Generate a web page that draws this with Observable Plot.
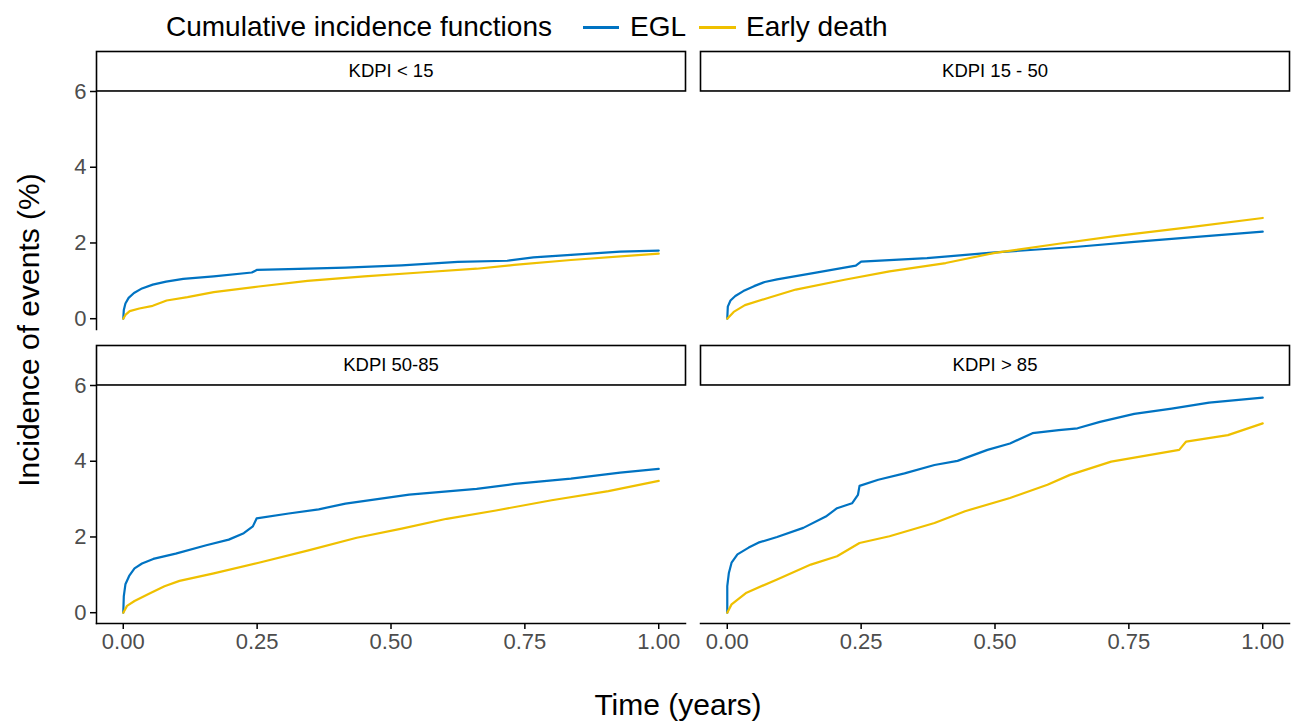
<!DOCTYPE html>
<html>
<head>
<meta charset="utf-8">
<script src="https://cdn.jsdelivr.net/npm/d3@7"></script>
<script src="https://cdn.jsdelivr.net/npm/@observablehq/plot@0.6"></script>
<style>
  body { margin: 0; background: #fff; font-family: "Liberation Sans", Arial, sans-serif; }
  #wrap { position: relative; width: 1298px; height: 721px; }
  #legend { position: absolute; left: 0; top: 0; width: 1298px; height: 48px; }
  .lg { position: absolute; top: 11px; font-size: 28px; color: #000; white-space: nowrap; line-height: 32px; }
  .sw { position: absolute; top: 26px; height: 3px; }
  #chart { position: absolute; left: 0; top: 48px; }
  #ytitle { position: absolute; left: 29px; top: 330px; transform: translate(-50%, -50%) rotate(-90deg); font-size: 30px; white-space: nowrap; }
  #xtitle { position: absolute; left: 678px; top: 705px; transform: translate(-50%, -50%); font-size: 30px; white-space: nowrap; }
</style>
</head>
<body>
<div id="wrap">
  <div id="legend"></div>
  <div id="chart"></div>
  <div id="ytitle">Incidence of events (%)</div>
  <div id="xtitle">Time (years)</div>
</div>
<script>
// ---- Data ----
const panels = ["KDPI < 15", "KDPI 15 - 50", "KDPI 50-85", "KDPI > 85"];
const panelCol = [0, 1, 0, 1];
const panelRow = [0, 0, 1, 1];
const seriesNames = ["EGL", "Early death"];
const seriesColors = ["#0073C2", "#EFC000"];
const legendTitle = "Cumulative incidence functions";
const xTicks = [0, 0.25, 0.5, 0.75, 1];
const yTicks = [0, 2, 4, 6];

// [time (years), incidence (%)]
const egl_lt15 = [[0,0],[0.001,0.23],[0.004,0.40],[0.01,0.55],[0.02,0.68],[0.035,0.80],[0.055,0.90],[0.08,0.98],[0.112,1.05],[0.169,1.12],[0.24,1.22],[0.25,1.29],[0.309,1.31],[0.415,1.35],[0.52,1.41],[0.625,1.50],[0.717,1.53],[0.766,1.62],[0.85,1.70],[0.928,1.77],[1.0,1.80]];
const death_lt15 = [[0,0],[0.004,0.10],[0.012,0.20],[0.03,0.27],[0.055,0.34],[0.081,0.48],[0.12,0.57],[0.169,0.70],[0.253,0.85],[0.344,1.00],[0.45,1.12],[0.555,1.22],[0.66,1.32],[0.73,1.42],[0.836,1.55],[1.0,1.72]];

const egl_15_50 = [[0,0],[0.001,0.32],[0.006,0.48],[0.015,0.60],[0.03,0.73],[0.05,0.86],[0.07,0.97],[0.093,1.04],[0.163,1.21],[0.24,1.40],[0.25,1.51],[0.373,1.60],[0.5,1.75],[0.654,1.90],[0.76,2.03],[0.865,2.15],[1.0,2.30]];
const death_15_50 = [[0,0],[0.012,0.18],[0.033,0.36],[0.079,0.56],[0.128,0.77],[0.219,1.03],[0.303,1.25],[0.408,1.47],[0.5,1.74],[0.619,1.98],[0.724,2.18],[0.865,2.42],[1.0,2.66]];

const egl_50_85 = [[0,0],[0.001,0.44],[0.004,0.75],[0.011,0.97],[0.021,1.17],[0.035,1.30],[0.056,1.42],[0.098,1.56],[0.155,1.78],[0.197,1.93],[0.225,2.10],[0.242,2.28],[0.249,2.49],[0.309,2.62],[0.365,2.73],[0.415,2.88],[0.534,3.12],[0.66,3.27],[0.731,3.40],[0.836,3.54],[0.928,3.70],[1.0,3.80]];
const death_50_85 = [[0,0],[0.007,0.18],[0.021,0.31],[0.049,0.51],[0.077,0.70],[0.105,0.84],[0.169,1.04],[0.253,1.32],[0.344,1.64],[0.436,1.98],[0.52,2.22],[0.604,2.48],[0.696,2.70],[0.80,2.97],[0.906,3.21],[1.0,3.48]];

const egl_gt85 = [[0,0],[0,0.70],[0.003,1.05],[0.008,1.32],[0.019,1.54],[0.04,1.72],[0.058,1.85],[0.093,2.00],[0.142,2.24],[0.184,2.54],[0.205,2.76],[0.233,2.89],[0.244,3.11],[0.247,3.35],[0.282,3.51],[0.331,3.68],[0.387,3.90],[0.43,4.01],[0.486,4.30],[0.528,4.47],[0.57,4.74],[0.619,4.82],[0.654,4.87],[0.696,5.04],[0.76,5.25],[0.83,5.39],[0.9,5.55],[1.0,5.68]];
const death_gt85 = [[0,0],[0.008,0.22],[0.036,0.53],[0.093,0.88],[0.156,1.27],[0.205,1.49],[0.247,1.84],[0.303,2.02],[0.387,2.37],[0.444,2.68],[0.528,3.03],[0.598,3.38],[0.64,3.64],[0.717,3.99],[0.844,4.30],[0.857,4.52],[0.935,4.69],[1.0,5.0]];

const curves = [
  [egl_lt15, death_lt15],
  [egl_15_50, death_15_50],
  [egl_50_85, death_50_85],
  [egl_gt85, death_gt85]
];

// ---- Build tidy table ----
const rows = [];
curves.forEach((pair, pi) => {
  pair.forEach((pts, si) => {
    pts.forEach(([t, v]) => rows.push({
      panel: panels[pi], col: panelCol[pi], row: panelRow[pi],
      series: seriesNames[si], t, v
    }));
  });
});
const strips = panels.map((p, i) => ({panel: p, col: panelCol[i], row: panelRow[i]}));

// ---- Legend (HTML) ----
const legend = document.getElementById("legend");
legend.innerHTML =
  `<span class="lg" style="left:166px">${legendTitle}</span>` +
  `<span class="sw" style="left:583px;width:36px;background:${seriesColors[0]}"></span>` +
  `<span class="lg" style="left:630px">${seriesNames[0]}</span>` +
  `<span class="sw" style="left:699px;width:37px;background:${seriesColors[1]}"></span>` +
  `<span class="lg" style="left:746px">${seriesNames[1]}</span>`;

// ---- Chart ----
const W = 1298, H = 673;
const mTop = 43, mBottom = 97;
const fyPad = 0.19;
const bandH = (H - mTop - mBottom) / (2 - fyPad) * (1 - fyPad);

const chart = Plot.plot({
  width: W,
  height: H,
  marginLeft: 96,
  marginRight: 9,
  marginTop: mTop,
  marginBottom: mBottom,
  style: {fontFamily: "'Liberation Sans', Arial, sans-serif", background: "#fff"},
  fx: {domain: [0, 1], paddingInner: 15 / 604, paddingOuter: 0, axis: null},
  fy: {domain: [0, 1], paddingInner: fyPad, paddingOuter: 0, axis: null},
  x: {domain: [-0.05, 1.05]},
  y: {domain: [-0.285, 6]},
  color: {domain: seriesNames, range: seriesColors},
  marks: [
    Plot.line(rows, {x: "t", y: "v", z: "series", stroke: "series", fx: "col", fy: "row", strokeWidth: 2.2}),
    Plot.frame({anchor: "left", facetAnchor: "left", stroke: "#000", strokeWidth: 1.5}),
    Plot.frame({anchor: "bottom", facetAnchor: "bottom", stroke: "#000", strokeWidth: 1.5}),
    Plot.axisX({ticks: xTicks, tickFormat: d3.format(".2f"), tickSize: 6, tickPadding: 4, fontSize: 22, color: "#4D4D4D", stroke: "#000", strokeWidth: 1.5, label: null, facetAnchor: "bottom"}),
    Plot.axisY({ticks: yTicks, tickFormat: d3.format("d"), tickSize: 6, tickPadding: 4, fontSize: 22, color: "#4D4D4D", stroke: "#000", strokeWidth: 1.5, label: null, facetAnchor: "left"}),
    Plot.frame({stroke: "#000", strokeWidth: 1.6, fill: "#fff", insetTop: -40, insetBottom: bandH}),
    Plot.text(strips, {fx: "col", fy: "row", text: "panel", frameAnchor: "top", lineAnchor: "middle", dy: -20, fontSize: 18.5, fill: "#000"})
  ]
});
document.getElementById("chart").appendChild(chart);
</script>
</body>
</html>
